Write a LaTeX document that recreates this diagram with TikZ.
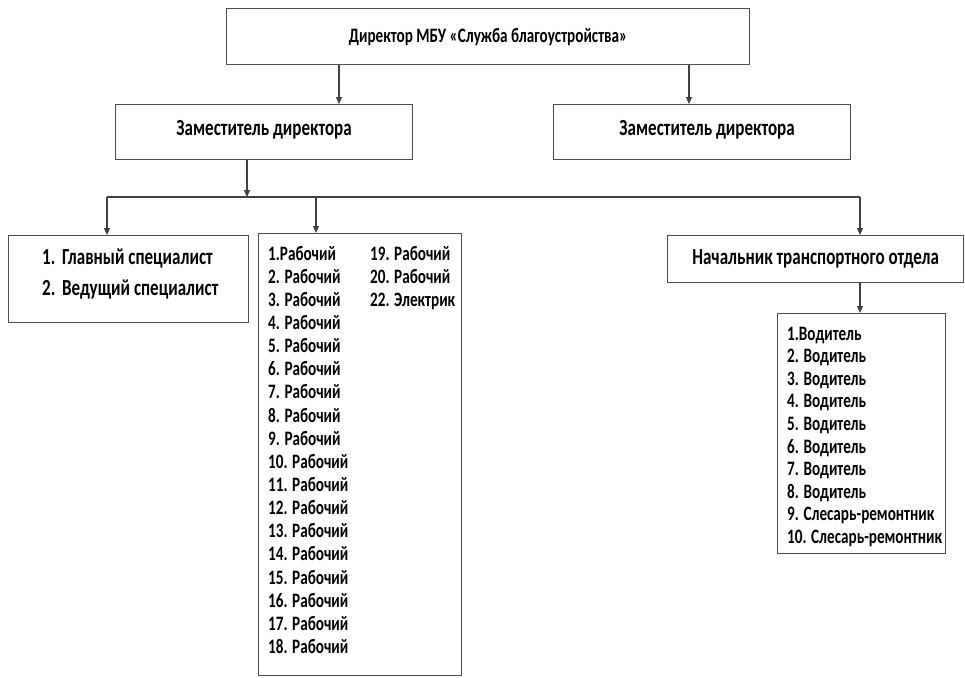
\documentclass[tikz,border=0pt]{standalone}
\usepackage{fontspec}
\setmainfont{Carlito}[FakeStretch=0.74]
\usetikzlibrary{arrows.meta}

\tikzset{
  box/.style={draw=black!70, line width=1.2pt, anchor=north west, inner sep=0pt,
    font=\bfseries\fontsize{23}{27}\selectfont},
  item/.style={anchor=base west, inner sep=0pt, font=\bfseries\fontsize{20.5}{24}\selectfont},
  bigitem/.style={item, font=\bfseries\fontsize{23}{27}\selectfont},
  wire/.style={draw=black!75, line width=1.2pt},
  link/.style={wire, -{Triangle[width=6pt,length=7pt]}}
}

\begin{document}
\begin{tikzpicture}[x=1pt,y=-1pt]
  \useasboundingbox (0,0) rectangle (965,677);
  % boxes
  \node[box, minimum width=523pt, minimum height=56pt, font=\bfseries\fontsize{20.5}{24}\selectfont] (director) at (226,8) {Директор МБУ «Служба благоустройства»};
  \node[box, minimum width=297pt, minimum height=55pt] (deputyA) at (115,104) {Заместитель директора\rule[-8pt]{0pt}{1pt}};
  \node[box, minimum width=297pt, minimum height=55pt] (deputyB) at (553,104) {\hspace*{10pt}Заместитель директора\rule[-8pt]{0pt}{1pt}};
  \node[box, minimum width=240pt, minimum height=87pt] (specialists) at (8,235) {};
  \node[box, minimum width=203pt, minimum height=442pt] (workers) at (258,233) {};
  \node[box, minimum width=296pt, minimum height=47pt] (transport) at (667,235) {Начальник транспортного отдела};
  \node[box, minimum width=168pt, minimum height=240pt] (drivers) at (777,313) {};

  % specialists
  \node[bigitem] (s1) at (42,264) {1.};
  \node[bigitem] (s1t) at (62,264) {Главный специалист};
  \node[bigitem] (s2) at (42,295) {2.};
  \node[bigitem] (s2t) at (62,295) {Ведущий специалист};

  % workers
  \node[item] (w1) at (268,260) {1.Рабочий};
  \foreach \i in {2,...,18}
    \node[item] (w\i) at (268,{260+(\i-1)*23.15}) {\i. Рабочий};
  \node[item] (w19) at (370,260) {19. Рабочий};
  \node[item] (w20) at (370,283.15) {20. Рабочий};
  \node[item] (w22) at (370,306.3) {22. Электрик};

  % drivers
  \node[item] (d1) at (787,340) {1.Водитель};
  \foreach \i in {2,...,8}
    \node[item] (d\i) at (787,{340+(\i-1)*22.6}) {\i. Водитель};
  \node[item] (d9) at (787,520.8) {9. Слесарь-ремонтник};
  \node[item] (d10) at (787,543.4) {10. Слесарь-ремонтник};

  % connectors
  \coordinate (bus) at (247,197);
  \coordinate (busL) at (107,197);
  \coordinate (busM) at (316,197);
  \coordinate (busR) at (860,197);
  \draw[link] ([xshift=113pt]director.south west) -- ([xshift=224pt]deputyA.north west);
  \draw[link] ([xshift=463pt]director.south west) -- ([xshift=136pt]deputyB.north west);
  \draw[link] ([xshift=132pt]deputyA.south west) -- (bus);
  \draw[wire] (busL) -- (busR);
  \draw[link] (busL) -- (busL |- specialists.north);
  \draw[link] (busM) -- (busM |- workers.north);
  \draw[link] (busR) -- (busR |- transport.north);
  \draw[link] (transport.south -| busR) -- (busR |- drivers.north);
\end{tikzpicture}
\end{document}
